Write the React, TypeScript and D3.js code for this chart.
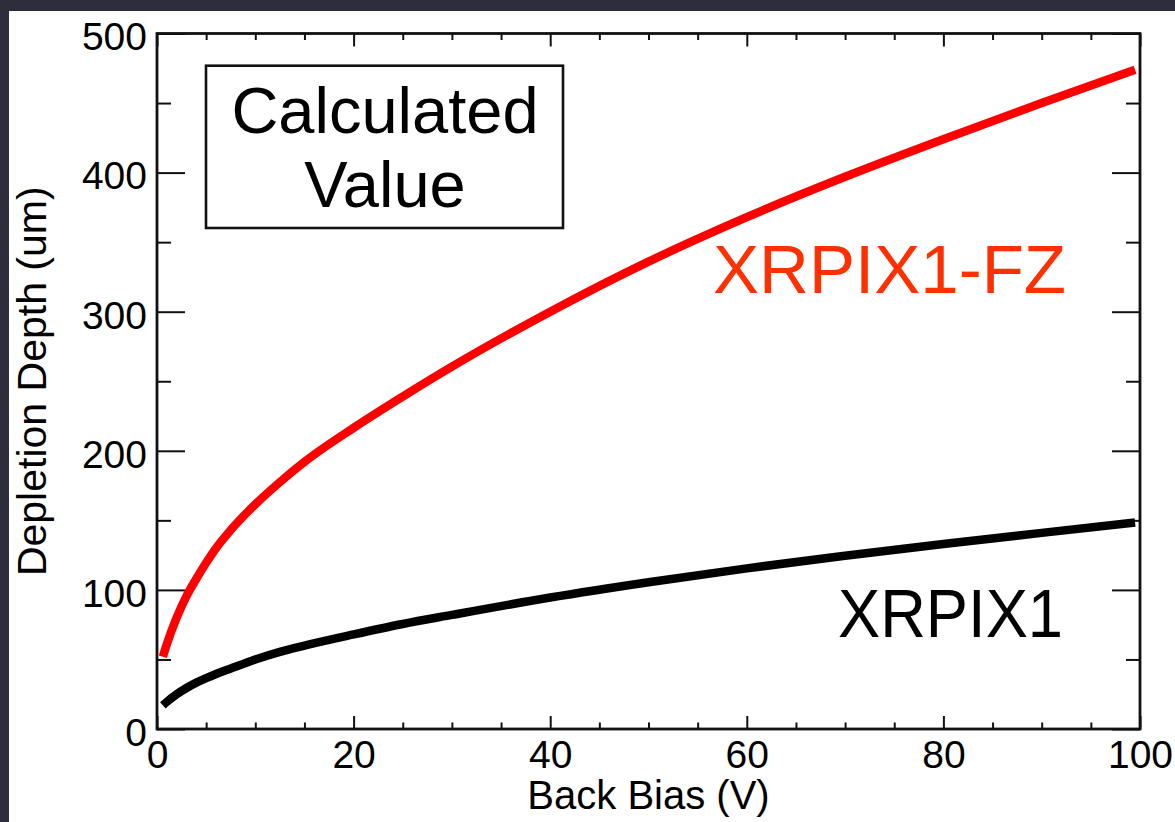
import React, { useEffect, useRef } from "react";
import * as d3 from "d3";

// back bias (V) and calculated depletion depth (um)
const biasV = [0.6, 1, 2, 3, 4, 5, 6, 7.5, 10, 12.5, 15, 20, 25, 30, 40, 50, 60, 70, 80, 90, 99.5];
const fzDepth = [52, 61, 80, 95.5, 108, 119.5, 130, 143, 161.5, 177.5, 192, 216.5, 239, 260.5, 300, 336, 368, 397, 424, 450, 474];
const xrpixDepth = [17, 19.5, 25, 29.5, 33.3, 36.5, 39.5, 43.5, 50, 55.5, 60, 68, 75.5, 82, 94.5, 105.5, 115.5, 124.5, 133, 141, 148.5];

const xMajor = [0, 20, 40, 60, 80, 100];
const yMajor = [0, 100, 200, 300, 400, 500];

const W = 1175;
const H = 822;
const FONT = "'Liberation Sans', Arial, Helvetica, sans-serif";

export default function App() {
    const svgRef = useRef<SVGSVGElement | null>(null);

    useEffect(() => {
        if (!svgRef.current) return;
        const svg = d3.select(svgRef.current);
        svg.selectAll("*").remove();

        const m = { top: 33.5, right: 35, bottom: 93, left: 157 };
        const x = d3.scaleLinear().domain([0, 100]).range([m.left, W - m.right]);
        const y = d3.scaleLinear().domain([0, 500]).range([H - m.bottom, m.top]);

        // slide background + white panel
        svg.append("rect").attr("width", W).attr("height", H).attr("fill", "#2d2d3b");
        svg.append("rect").attr("x", 9).attr("y", 11).attr("width", W - 9).attr("height", H - 11).attr("fill", "#fff");

        const xMinor = d3.range(0, 101, 5).filter((d) => d % 20 !== 0);
        const yMinor = d3.range(0, 501, 50).filter((d) => d % 100 !== 0);

        const axes = [
            { ax: d3.axisBottom(x).tickValues(xMajor).tickSize(-13).tickPadding(11), t: `translate(0,${y(0)})`, lab: "x" },
            { ax: d3.axisBottom(x).tickValues(xMinor).tickSize(-6.5), t: `translate(0,${y(0)})`, lab: "" },
            { ax: d3.axisTop(x).tickValues(xMajor).tickSize(-13), t: `translate(0,${y(500)})`, lab: "" },
            { ax: d3.axisTop(x).tickValues(xMinor).tickSize(-6.5), t: `translate(0,${y(500)})`, lab: "" },
            { ax: d3.axisLeft(y).tickValues(yMajor).tickSize(-28).tickPadding(10), t: `translate(${x(0)},0)`, lab: "y" },
            { ax: d3.axisLeft(y).tickValues(yMinor).tickSize(-14), t: `translate(${x(0)},0)`, lab: "" },
            { ax: d3.axisRight(y).tickValues(yMajor).tickSize(-28), t: `translate(${x(100)},0)`, lab: "" },
            { ax: d3.axisRight(y).tickValues(yMinor).tickSize(-14), t: `translate(${x(100)},0)`, lab: "" },
        ];
        axes.forEach(({ ax, t, lab }) => {
            const g = svg.append("g").attr("transform", t).call(ax.tickSizeOuter(0));
            g.select(".domain").remove();
            g.selectAll("line").attr("stroke", "#111").attr("stroke-width", 2);
            if (lab) {
                const txt = g.selectAll("text").attr("font-size", 39).attr("font-family", FONT).attr("fill", "#000");
                if (lab === "y") txt.attr("dy", "0.42em"); // labels sit a bit below the tick
            } else {
                g.selectAll("text").remove();
            }
        });

        // frame
        svg.append("rect")
            .attr("x", x(0)).attr("y", y(500))
            .attr("width", x(100) - x(0)).attr("height", y(0) - y(500))
            .attr("fill", "none").attr("stroke", "#111").attr("stroke-width", 2.8);

        // curves
        const line = d3.line<number>()
            .x((_, i) => x(biasV[i]))
            .y((d) => y(d))
            .curve(d3.curveMonotoneX);

        svg.append("path").datum(xrpixDepth).attr("fill", "none")
            .attr("stroke", "#000").attr("stroke-width", 8.5).attr("d", line);
        svg.append("path").datum(fzDepth).attr("fill", "none")
            .attr("stroke", "#ff0000").attr("stroke-width", 8.5).attr("d", line);

        // axis titles
        svg.append("text")
            .attr("x", (x(0) + x(100)) / 2).attr("y", 809)
            .attr("text-anchor", "middle").attr("font-size", 40).attr("font-family", FONT)
            .text("Back Bias (V)");
        svg.append("text")
            .attr("transform", `translate(46,${(y(0) + y(500)) / 2}) rotate(-90)`)
            .attr("text-anchor", "middle").attr("font-size", 41).attr("font-family", FONT)
            .text("Depletion Depth (um)");

        // annotation box
        svg.append("rect")
            .attr("x", 206).attr("y", 65.7).attr("width", 357).attr("height", 162.3)
            .attr("fill", "#fff").attr("stroke", "#111").attr("stroke-width", 2.6);
        [["Calculated", 133], ["Value", 206.5]].forEach(([s, by]) => {
            svg.append("text")
                .attr("x", 385).attr("y", by as number)
                .attr("text-anchor", "middle").attr("font-size", 65).attr("font-family", FONT)
                .text(s as string);
        });

        // series labels
        svg.append("text")
            .attr("x", 713).attr("y", 292.5).attr("font-size", 68).attr("font-family", FONT)
            .attr("fill", "#ff3000").attr("textLength", 353).attr("lengthAdjust", "spacingAndGlyphs")
            .text("XRPIX1-FZ");
        svg.append("text")
            .attr("x", 838).attr("y", 637).attr("font-size", 68).attr("font-family", FONT)
            .attr("fill", "#000").attr("textLength", 225).attr("lengthAdjust", "spacingAndGlyphs")
            .text("XRPIX1");
    }, []);

    return (
        <svg
            ref={svgRef}
            width={W}
            height={H}
            style={{ position: "absolute", left: 0, top: 0, display: "block" }}
        />
    );
}
